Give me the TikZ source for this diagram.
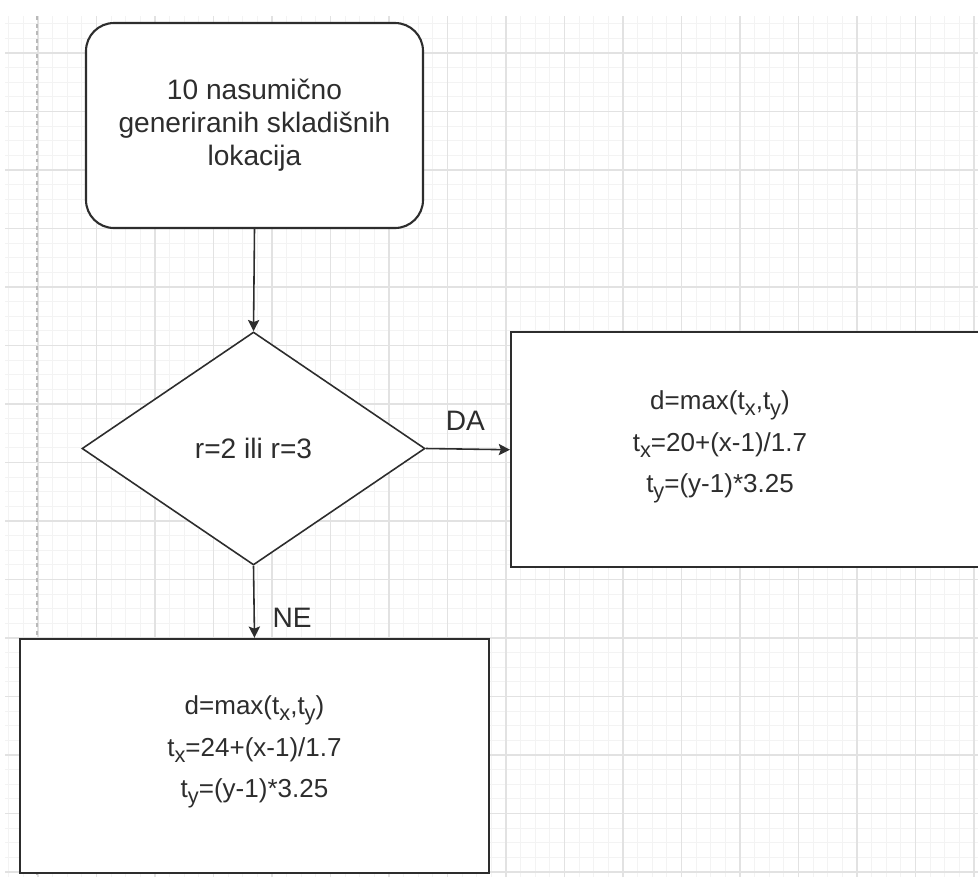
\documentclass[tikz,border=0pt]{standalone}
\usepackage{fontspec}
\setmainfont{Liberation Sans}
\usetikzlibrary{arrows.meta}
\usetikzlibrary{shapes}

\definecolor{gridMinor}{RGB}{243,243,243}
\definecolor{gridMajor}{RGB}{226,226,226}
\definecolor{pageLine}{RGB}{185,185,185}
\definecolor{inkGrey}{RGB}{45,45,45}

\newcommand{\subtxt}[1]{\raisebox{-0.45ex}{\fontsize{6.2}{6.2}\selectfont #1}}

\begin{document}
\begin{tikzpicture}[font=\fontsize{8}{9.4}\selectfont, color=inkGrey]
\tikzstyle{startStyle}=[rectangle, rounded corners=0.28cm, draw, line width=0.6pt, fill=white, minimum width=3.37cm, minimum height=2.05cm, align=center]
\tikzstyle{decisionStyle}=[diamond, draw, line width=0.45pt, fill=white, inner sep=0pt, minimum width=3.43cm, minimum height=2.33cm]
\tikzstyle{boxStyle}=[rectangle, draw, line width=0.7pt, fill=white, inner sep=0pt]
\tikzstyle{formulaStyle}=[align=center, inner sep=0pt, font=\fontsize{7.4}{11.8}\selectfont]
\tikzstyle{flowArrow}=[line width=0.45pt, -{Stealth[length=3.2pt, width=3.2pt, inset=0.6pt]}]
\clip (0,0) rectangle (9.78,-8.77);
\fill[white] (0,0) rectangle (9.78,-8.77);
% background grid
\begin{scope}[shift={(0.38,-0.53)}]
\draw[gridMinor, line width=0.3pt, step=0.14625] (-0.33,-8.24) grid (9.40,0.37);
\draw[gridMajor, line width=0.4pt, step=0.585] (-0.33,-8.24) grid (9.40,0.37);
\end{scope}
\draw[pageLine, line width=0.5pt, dash pattern=on 0.04cm off 0.035cm] (0.37,-0.16) -- (0.37,-8.77);
% nodes
\node[startStyle] (start) at (2.545,-1.255) {10 nasumično\\generiranih skladišnih\\lokacija};
\node[decisionStyle] (cond) at (2.535,-4.485) {r=2 ili r=3};
\node[boxStyle, minimum width=4.95cm, minimum height=2.35cm, anchor=north west] (yesBox) at (5.10,-3.31) {};
\node[formulaStyle] (yesText) at (7.20,-4.47) {d=max(t\subtxt{x},t\subtxt{y})\\t\subtxt{x}=20+(x-1)/1.7\\t\subtxt{y}=(y-1)*3.25};
\node[boxStyle, minimum width=4.69cm, minimum height=2.34cm] (noBox) at (2.545,-7.56) {};
\node[formulaStyle] (noText) at (2.545,-7.52) {d=max(t\subtxt{x},t\subtxt{y})\\t\subtxt{x}=24+(x-1)/1.7\\t\subtxt{y}=(y-1)*3.25};
% connectors
\draw[flowArrow] (start.south) -- (cond.north);
\draw[flowArrow] (cond.east) -- node[above, inner sep=5pt, pos=0.47] (daLabel) {DA} (yesBox.west);
\draw[flowArrow] (cond.south) -- node[right, inner sep=5pt, pos=0.72] (neLabel) {NE} (noBox.north);
\end{tikzpicture}
\end{document}
